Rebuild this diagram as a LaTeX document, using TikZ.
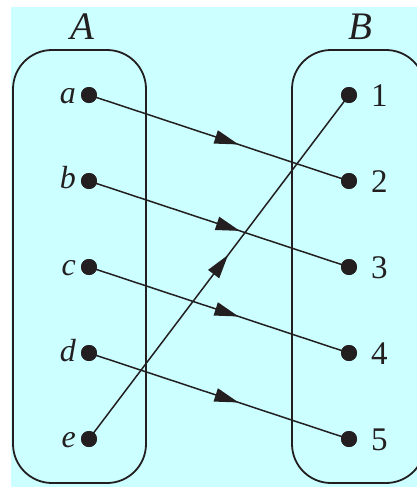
\documentclass[tikz,border=0pt]{standalone}
\usepackage{fontspec}
\setmainfont{Liberation Serif}
\usetikzlibrary{decorations.markings}
\definecolor{bgcyan}{RGB}{204,255,255}
\definecolor{ink}{RGB}{35,31,32}
\tikzset{
  setbox/.style={draw=ink, line width=1.8pt, rounded corners=39pt},
  dot/.style={circle, fill=ink, inner sep=0pt, minimum size=16pt},
  lbl/.style={font=\fontsize{32}{32}\selectfont\itshape, text=ink, inner sep=0pt},
  num/.style={font=\fontsize{33}{33}\selectfont, text=ink, inner sep=0pt},
  setname/.style={font=\fontsize{39}{39}\selectfont\itshape, text=ink, inner sep=0pt},
  arrline/.style={draw=ink, line width=1.5pt, postaction={decorate},
    decoration={markings, mark=at position #1 with {\fill[ink] (0pt,0pt) -- (-24pt,7pt) -- (-24pt,-7pt) -- cycle;}}},
}
\begin{document}
\begin{tikzpicture}[x=1pt,y=-1pt]
\useasboundingbox (0,0) rectangle (417,488);
\begin{scope}
\clip (0,0) rectangle (417,488);
\fill[bgcyan] (11,7) rectangle (417,487);
\draw[setbox] (13,50) rectangle (146,483);
\draw[setbox] (292,50) rectangle (425,483);
\end{scope}
\node[setname, anchor=base] (A) at (82,39) {A};
\node[setname, anchor=base] (B) at (360,39) {B};
% left dots
\node[dot] (a) at (89,95) {};
\node[dot] (b) at (89,181) {};
\node[dot] (c) at (89,267) {};
\node[dot] (d) at (89,353) {};
\node[dot] (e) at (89,439) {};
% right dots
\node[dot] (n1) at (349,95) {};
\node[dot] (n2) at (349,181) {};
\node[dot] (n3) at (349,267) {};
\node[dot] (n4) at (349,353) {};
\node[dot] (n5) at (349,439) {};
% connectors
\draw[arrline=0.575] (a.center) -- (n2.center);
\draw[arrline=0.58] (b.center) -- (n3.center);
\draw[arrline=0.575] (c.center) -- (n4.center);
\draw[arrline=0.575] (d.center) -- (n5.center);
\draw[arrline=0.535] (e.center) -- (n1.center);
% redraw dots on top
\foreach \p in {a,b,c,d,e,n1,n2,n3,n4,n5} \fill[ink] (\p.center) circle (8pt);
% labels
\node[lbl, anchor=base east] (la) at (76,103) {a};
\node[lbl, anchor=base east] (lb) at (76,188) {b};
\node[lbl, anchor=base east] (lc) at (76,275) {c};
\node[lbl, anchor=base east] (ld) at (76,361) {d};
\node[lbl, anchor=base east] (le) at (76,447) {e};
\node[num, anchor=base west] (l1) at (371,106) {1};
\node[num, anchor=base west] (l2) at (371,192) {2};
\node[num, anchor=base west] (l3) at (371,278) {3};
\node[num, anchor=base west] (l4) at (371,364) {4};
\node[num, anchor=base west] (l5) at (371,450) {5};
\end{tikzpicture}
\end{document}
